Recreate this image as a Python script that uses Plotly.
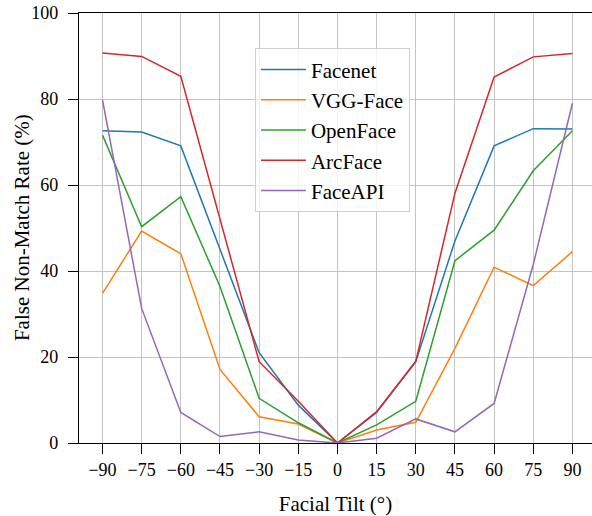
import plotly.graph_objects as go

tilt = [-90, -75, -60, -45, -30, -15, 0, 15, 30, 45, 60, 75, 90]
facenet = [72.6, 72.3, 69.1, 45.0, 21.0, 8.8, 0, 7.1, 18.9, 47.0, 69.1, 73.1, 73.0]
vgg_face = [34.8, 49.3, 44.0, 17.1, 6.1, 4.4, 0, 3.0, 4.8, 22.0, 40.9, 36.6, 44.5]
openface = [71.6, 50.3, 57.3, 36.4, 10.4, 4.7, 0, 4.2, 9.7, 42.4, 49.5, 63.3, 72.6]
arcface = [90.7, 89.9, 85.3, 52.3, 18.9, 9.7, 0, 7.3, 19.0, 58.1, 85.1, 89.8, 90.6]
faceapi = [79.8, 31.3, 7.1, 1.5, 2.6, 0.7, 0, 1.1, 5.6, 2.6, 9.2, 41.5, 79.0]

series = [("Facenet", facenet, "#1f77b4"),
          ("VGG-Face", vgg_face, "#ff7f0e"),
          ("OpenFace", openface, "#2ca02c"),
          ("ArcFace", arcface, "#d62728"),
          ("FaceAPI", faceapi, "#9467bd")]

font = "Liberation Serif, Times New Roman, serif"
fig = go.Figure()
for name, vals, col in series:
    fig.add_trace(go.Scatter(x=tilt, y=vals, mode="lines", name=name,
                             line=dict(color=col, width=1.5)))

fig.update_layout(
    width=592, height=516,
    margin=dict(l=79, r=0, t=13, b=73, autoexpand=False),
    paper_bgcolor="white", plot_bgcolor="white",
    font=dict(family=font, size=18, color="black"),
    showlegend=True,
    legend=dict(x=0.343, y=0.918, xanchor="left", yanchor="top",
                bgcolor="rgba(255,255,255,0.8)", bordercolor="#d0d0d0", borderwidth=1,
                itemwidth=45,
                font=dict(family=font, size=21, color="black")),
    annotations=[dict(text="False Non-Match Rate (%)", textangle=-90,
                      xref="paper", yref="paper", x=-0.111, y=0.5,
                      xanchor="center", yanchor="middle", showarrow=False,
                      font=dict(family=font, size=21, color="black"))],
)
fig.update_xaxes(range=[-99, 97.5], tickvals=tilt, ticks="outside", ticklen=10,
                 tickcolor="black", showline=True, linecolor="black", linewidth=1.2,
                 mirror=True, showgrid=True, gridcolor="#c4c4c4", gridwidth=1,
                 zeroline=False, automargin=False, tickfont=dict(size=18),
                 ticklabeloverflow="allow",
                 title=dict(text="Facial Tilt (°)", font=dict(size=21), standoff=19))
fig.update_yaxes(range=[0, 100], tickvals=[0, 20, 40, 60, 80, 100], ticks="outside",
                 ticklen=10, tickcolor="black", showline=True, linecolor="black",
                 linewidth=1.2, mirror=False, showgrid=True, gridcolor="#c4c4c4",
                 gridwidth=1, zeroline=False, automargin=False, tickfont=dict(size=18),
                 ticklabelstandoff=6, ticklabeloverflow="allow")

fig.write_html("out.html", config={"displayModeBar": False},
               post_script="document.body.style.margin='0';document.body.style.overflow='hidden';")
